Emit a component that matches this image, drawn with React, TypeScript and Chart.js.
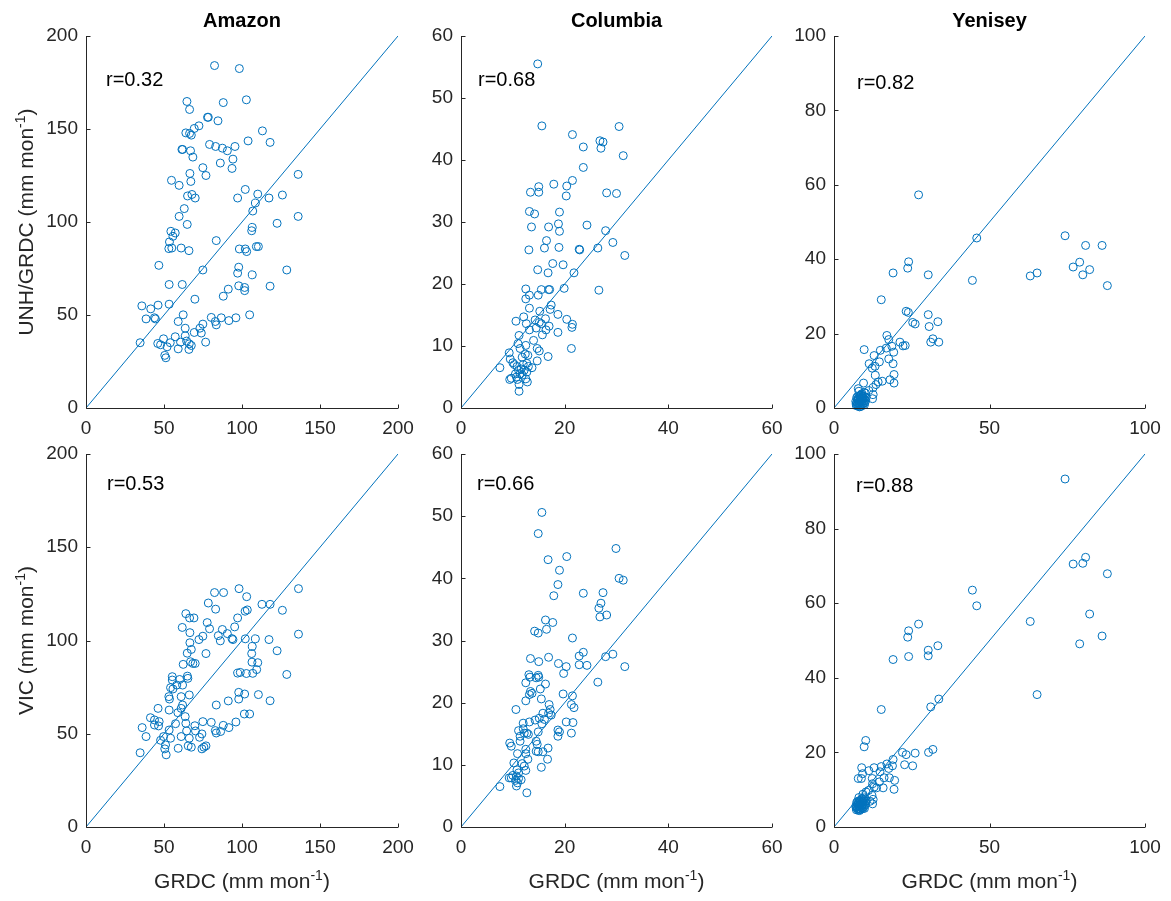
import React, { useEffect, useRef } from "react";
import { Chart, registerables } from "chart.js";

Chart.register(...registerables);

const BLUE = "#0072BD";
const AXIS = "#262626";
const FONT = "'Liberation Sans', Arial, Helvetica, sans-serif";

// ---------- data: GRDC (x) vs model (y), mm mon-1 ----------
const amazonUnhX = [82.4,98.3,64.7,88.0,102.8,66.4,77.9,78.4,84.6,72.4,69.4,64.0,66.4,67.5,113.1,103.9,118.0,79.2,83.1,87.4,90.6,95.5,61.5,61.9,67.0,68.5,94.2,86.1,74.9,93.6,76.9,66.6,67.2,54.8,59.7,136.0,102.1,97.2,110.1,117.3,125.9,65.1,67.9,70.0,63.0,108.6,106.9,59.7,64.9,136.0,122.5,106.6,106.2,54.4,57.2,55.7,53.5,83.5,53.1,55.0,61.0,66.0,98.3,102.1,103.0,109.2,110.5,46.7,74.9,97.9,97.2,106.6,128.7,53.3,61.7,91.2,88.0,97.9,101.7,101.7,118.0,69.8,35.8,41.5,46.2,53.3,38.5,43.9,44.5,62.3,80.3,86.7,96.1,104.9,59.1,82.9,83.5,91.6,74.9,73.0,63.6,69.4,73.9,57.2,63.6,49.7,34.7,46.0,47.8,54.0,60.6,64.5,66.2,67.5,76.7,52.0,59.1,66.0,50.5,51.2];
const amazonUnhY = [184.1,182.5,164.8,164.2,165.7,160.5,156.3,156.3,154.4,151.7,150.3,147.9,147.6,146.7,149.0,143.6,142.8,141.7,140.6,139.7,138.3,140.6,139.0,139.0,138.3,134.9,133.8,131.7,129.2,128.8,125.0,126.1,121.8,122.4,119.7,125.6,117.5,112.9,115.0,112.9,114.5,114.0,114.8,112.9,107.2,110.2,105.9,103.0,98.7,103.0,99.3,97.1,95.3,95.0,94.1,92.3,89.3,90.0,85.7,86.0,86.0,84.6,85.5,85.5,84.1,86.8,86.8,76.7,74.2,75.7,72.5,71.6,74.2,66.4,66.4,63.9,60.1,65.7,64.8,63.1,65.5,58.5,54.9,53.3,55.3,55.8,47.9,48.5,47.9,50.1,48.7,48.5,48.5,50.1,46.5,46.5,44.7,47.0,45.1,42.9,42.9,40.6,40.3,38.3,38.8,37.2,35.1,34.7,34.0,35.1,35.4,36.0,34.5,33.6,35.4,32.9,31.8,31.5,28.3,27.0];

const amazonVicX = [98.1,136.2,82.4,88.2,103.0,78.4,112.8,118.0,83.1,102.0,103.4,125.9,64.0,66.4,69.2,97.2,77.7,61.7,79.2,87.4,95.3,66.6,90.6,84.8,74.9,72.4,93.6,94.2,86.1,102.1,108.6,117.3,136.2,66.6,122.5,106.6,67.5,64.9,76.9,106.2,67.0,62.3,68.5,70.0,106.4,110.1,109.4,97.2,98.9,102.8,106.9,128.7,55.3,65.0,65.3,55.3,60.0,58.2,61.9,54.2,55.7,53.1,61.0,66.2,53.5,97.9,101.7,110.5,61.9,61.0,91.2,97.9,118.0,83.5,46.2,53.3,58.9,63.6,101.5,104.9,41.3,43.9,46.9,43.9,46.5,57.4,64.0,69.8,74.9,80.3,88.0,96.1,36.0,53.3,64.5,70.2,82.9,83.5,86.3,91.6,38.5,49.7,61.0,72.8,74.3,47.8,54.2,66.2,51.0,65.5,67.5,75.6,76.9,74.3,59.1,50.5,34.7,51.4];
const amazonVicY = [127.8,127.8,125.7,125.7,123.5,120.1,119.4,119.4,116.8,115.7,116.4,116.2,114.4,112.1,112.1,112.1,109.6,107.0,106.3,105.9,107.3,104.2,103.7,102.6,102.3,100.5,101.0,100.5,99.8,100.9,100.9,100.5,103.4,98.8,94.5,96.8,95.2,93.2,93.0,93.0,88.6,87.2,87.7,87.7,88.4,88.1,84.4,82.5,82.9,82.3,82.4,81.8,80.6,80.9,79.7,78.8,79.1,76.1,76.1,74.7,74.0,69.9,69.9,70.8,68.6,72.2,71.3,71.0,65.4,63.6,67.6,68.6,67.7,65.4,63.6,62.7,61.3,59.2,60.6,60.6,58.6,57.4,56.5,54.7,54.2,55.4,55.6,54.3,56.5,56.1,54.5,56.3,53.3,52.0,51.5,51.5,51.7,50.4,51.2,53.3,48.5,48.5,48.5,48.1,49.9,46.5,47.6,47.6,44.0,43.5,42.8,42.8,43.5,41.9,42.2,41.9,39.8,38.7];

const columbiaUnhX = [14.8,15.6,30.5,21.5,26.8,27.4,27.0,23.6,31.3,23.6,21.5,17.9,20.4,15.0,13.4,15.0,20.3,28.1,30.0,13.2,14.2,19.0,18.8,13.6,16.9,24.3,19.0,27.9,16.5,29.3,13.1,16.1,18.9,22.8,22.9,26.4,31.6,17.7,19.7,14.8,16.8,21.8,12.5,15.5,16.9,17.1,19.9,26.6,13.2,14.9,12.5,13.2,17.4,15.2,17.2,12.1,18.7,10.6,12.6,14.3,16.3,20.4,15.1,15.5,17.0,21.5,21.4,13.2,14.5,16.4,15.7,18.7,11.2,14.0,11.0,12.5,14.7,15.1,21.3,11.4,9.3,12.4,12.9,16.8,9.5,11.8,14.7,10.0,10.3,10.8,7.5,12.0,13.0,13.7,11.1,12.2,12.7,11.4,10.7,11.8,9.4,9.7,10.9,12.5,12.8,11.2,11.2,10.5,11.6,12.7];
const columbiaUnhY = [55.5,45.5,45.4,44.1,43.1,42.9,41.9,42.1,40.7,38.8,36.7,36.1,35.8,35.7,34.8,34.8,34.2,34.7,34.6,31.7,31.3,31.6,29.7,29.2,29.2,29.5,28.5,28.6,27.0,26.7,25.5,25.8,25.9,25.6,25.5,25.8,24.6,23.3,23.1,22.3,21.8,21.8,19.2,19.1,19.1,19.1,19.3,19.0,18.2,18.2,17.6,16.1,16.6,15.6,15.9,14.7,15.1,14.0,13.6,14.2,14.4,14.3,13.8,13.6,13.2,13.5,13.0,12.6,12.9,12.6,11.8,12.2,11.7,10.9,10.4,10.1,9.6,9.2,9.6,9.6,8.9,8.7,8.5,8.3,7.9,8.2,7.6,7.3,7.0,6.7,6.5,7.0,6.7,6.5,6.1,6.1,5.8,5.5,5.0,5.3,4.6,4.8,4.6,4.7,4.2,3.8,2.7,5.5,6.3,7.2];

const columbiaVicX = [15.6,14.9,29.9,20.4,16.8,19.0,30.5,31.3,18.7,17.9,23.6,27.4,27.0,26.6,28.1,26.8,16.3,17.7,14.2,14.9,16.5,21.5,23.6,22.8,29.3,27.9,13.4,15.0,16.9,18.8,20.3,22.8,24.3,31.6,13.1,14.9,15.0,14.5,13.3,19.8,12.5,16.3,15.3,26.4,13.4,13.2,13.7,19.7,21.5,12.5,15.5,17.0,21.3,21.8,10.6,17.2,16.9,17.4,15.8,15.1,14.3,16.1,13.2,15.6,12.0,20.3,21.6,11.1,12.0,14.9,12.7,13.0,18.7,19.0,21.3,11.4,12.2,18.7,11.4,9.4,9.7,14.5,14.7,16.8,12.5,12.5,10.9,14.5,14.9,15.8,12.9,16.7,10.2,11.8,12.2,15.5,12.5,10.8,11.1,10.0,9.3,9.7,10.7,11.1,11.6,10.5,10.9,7.5,10.7,12.7];
const columbiaVicY = [50.6,47.2,44.8,43.5,43.0,41.3,40.0,39.7,39.0,37.2,37.6,37.7,36.0,35.2,34.1,33.8,33.3,32.9,31.5,31.2,31.8,30.4,28.1,27.5,27.8,27.4,27.1,26.6,27.3,26.3,25.8,26.1,26.0,25.8,24.5,24.4,24.1,24.0,24.1,24.7,23.2,23.0,22.2,23.3,21.8,21.3,21.5,21.4,21.1,20.3,20.6,19.7,19.7,19.2,18.9,18.9,18.3,18.0,18.3,17.5,17.2,17.3,16.9,16.6,16.7,16.9,16.8,15.5,15.8,15.3,15.1,14.9,15.6,15.3,15.1,14.6,15.1,14.6,13.8,13.5,13.0,13.8,13.3,12.7,12.5,11.8,11.8,12.2,12.1,12.1,10.9,10.9,10.3,10.2,9.8,9.6,9.1,9.2,8.7,8.3,7.9,7.9,8.2,7.8,7.6,7.5,7.1,6.5,6.6,5.5];

const yeniseyUnhX = [27.2,45.9,74.3,80.9,86.2,79.0,76.9,82.2,80.0,65.3,63.1,87.9,44.5,24.0,23.7,19.0,30.3,15.2,23.2,23.9,30.3,25.3,26.1,33.4,30.6,31.8,31.1,33.7,17.0,17.6,21.2,22.2,22.9,18.6,16.8,14.9,9.7,19.2,12.9,17.6,14.6,11.3,19.0,12.3,13.2,19.3,13.3,18.0,19.3,15.5,14.2,13.5,12.6,9.5,11.2,7.8,10.1,12.6,12.4,8.7,7.2,7.5,7.8,8.0,8.3,8.6,8.9,9.2,9.5,9.8,7.0,7.4,7.7,8.1,8.4,8.8,9.1,9.4,9.9,10.2,7.3,7.6,7.9,8.2,8.5,8.7,9.0,9.3,9.6,10.0,7.1,7.9,8.6,9.4,8.2,7.6,8.9,9.7,10.4,8.0];
const yeniseyUnhY = [57.3,45.7,46.3,43.7,43.7,39.2,37.9,37.2,35.8,36.3,35.5,32.9,34.3,39.3,37.6,36.3,35.8,29.1,26.0,25.7,25.1,23.0,22.6,23.2,21.9,18.6,17.7,17.7,19.5,18.4,17.7,16.7,16.8,16.6,16.1,15.5,15.7,15.0,14.1,13.2,12.4,11.9,11.9,10.7,11.2,9.0,8.8,7.6,6.7,7.2,7.0,6.3,5.5,6.7,4.7,5.2,4.0,3.6,2.5,3.4,0.6,0.9,0.5,1.2,0.8,0.4,1.0,0.7,1.3,0.9,1.8,1.5,2.1,1.7,2.4,1.6,2.2,1.9,1.5,2.0,2.8,3.1,2.6,3.3,2.9,3.5,2.7,3.2,2.5,3.0,1.1,1.4,1.9,2.6,0.3,2.4,3.8,4.2,2.9,4.5];

const yeniseyVicX = [74.3,80.9,76.9,80.0,87.9,44.5,45.9,82.2,63.1,86.2,79.0,65.3,27.2,24.0,23.7,33.4,30.3,30.3,24.0,19.0,15.2,33.7,31.1,10.2,9.7,22.0,23.2,26.1,30.4,31.8,19.0,17.0,22.7,25.3,18.8,17.6,15.2,12.9,8.9,11.2,9.2,7.8,8.8,12.3,14.8,16.1,17.8,19.5,14.6,12.4,12.9,13.7,15.8,19.3,11.1,10.3,12.2,9.3,12.6,12.4,11.6,7.2,7.5,7.8,8.0,8.3,8.6,8.9,9.2,9.5,9.8,7.0,7.4,7.7,8.1,8.4,8.8,9.1,9.4,9.9,10.2,7.3,7.6,7.9,8.2,8.5,8.7,9.0,9.3,9.6,10.0,7.1,7.9,8.6,9.4,8.2,7.6,8.9,9.7,10.4,8.0];
const yeniseyVicY = [93.3,72.3,70.5,70.7,67.9,63.5,59.3,57.1,55.1,51.2,49.1,35.5,54.4,52.6,50.9,48.6,47.4,45.9,45.7,44.9,31.5,34.3,32.2,23.2,21.5,20.0,19.4,19.8,20.0,20.8,18.1,16.9,16.7,16.4,16.4,15.7,16.2,15.9,15.9,15.1,14.3,13.0,13.0,13.0,14.8,13.2,13.2,12.5,12.1,11.6,10.7,10.5,10.5,10.1,9.8,9.4,8.5,8.8,7.4,6.2,6.9,4.6,4.9,4.5,5.0,4.8,4.7,5.1,4.9,5.3,5.0,5.6,5.4,5.9,5.7,6.1,5.6,5.9,6.2,5.8,6.3,6.6,6.9,6.4,7.0,6.7,7.2,6.5,6.8,7.1,6.9,5.2,5.5,6.0,7.4,4.4,6.3,7.6,7.8,7.0,7.9];

const rivers = ["Amazon", "Columbia", "Yenisey"];
const rUnh = ["0.32", "0.68", "0.82"];
const rVic = ["0.53", "0.66", "0.88"];
const axisMax = [200, 60, 100];
const xTickStep = [50, 20, 50];
const yTickStep = [50, 10, 20];
const rowLabels = ["UNH/GRDC", "VIC"];
const xLabel = "GRDC";

// ---------- layout (pixels) ----------
const colLeft = [86, 461, 834];
const colWidth = [312, 311, 311];
const rowTop = [36, 454];
const rowHeight = [372, 373];
const MARGIN_L = 86;
const MARGIN_T = 36;
const MARGIN_R = 30;
const MARGIN_B = 80;
const rTextOffset = [
  [[20, 49.5], [17, 50], [23, 53]],
  [[21, 35.5], [16, 35.5], [22, 38]],
];

const seriesByPanel = [
  [[amazonUnhX, amazonUnhY], [columbiaUnhX, columbiaUnhY], [yeniseyUnhX, yeniseyUnhY]],
  [[amazonVicX, amazonVicY], [columbiaVicX, columbiaVicY], [yeniseyVicX, yeniseyVicY]],
];

function drawUnitLabel(ctx: CanvasRenderingContext2D, prefix: string, x: number, y: number, rotate: boolean) {
  const mainFont = `21px ${FONT}`;
  const supFont = `14px ${FONT}`;
  const a = prefix + " (mm mon";
  const s = "-1";
  const b = ")";
  ctx.font = mainFont;
  const wa = ctx.measureText(a).width;
  const wb = ctx.measureText(b).width;
  ctx.font = supFont;
  const ws = ctx.measureText(s).width;
  const total = wa + ws + wb;
  ctx.save();
  ctx.translate(x, y);
  if (rotate) ctx.rotate(-Math.PI / 2);
  ctx.textBaseline = "alphabetic";
  ctx.textAlign = "left";
  ctx.fillStyle = AXIS;
  let cx = -total / 2;
  ctx.font = mainFont;
  ctx.fillText(a, cx, 0);
  cx += wa;
  ctx.font = supFont;
  ctx.fillText(s, cx, -8);
  cx += ws;
  ctx.font = mainFont;
  ctx.fillText(b, cx, 0);
  ctx.restore();
}

const decorPlugin = {
  id: "panelDecor",
  afterDraw(chart: any, _args: any, opts: any) {
    const { ctx, chartArea: ca } = chart;
    const xs = chart.scales.x;
    const ys = chart.scales.y;
    ctx.save();
    ctx.strokeStyle = AXIS;
    ctx.lineWidth = 1;
    ctx.beginPath();
    const lx = Math.round(ca.left) + 0.5;
    const by = Math.round(ca.bottom) + 0.5;
    ctx.moveTo(lx, ca.top);
    ctx.lineTo(lx, by);
    ctx.lineTo(ca.right, by);
    xs.ticks.forEach((t: any) => {
      const px = Math.round(xs.getPixelForValue(t.value)) + 0.5;
      ctx.moveTo(px, by);
      ctx.lineTo(px, by - 4);
    });
    ys.ticks.forEach((t: any) => {
      const py = Math.round(ys.getPixelForValue(t.value)) + 0.5;
      ctx.moveTo(lx, py);
      ctx.lineTo(lx + 4, py);
    });
    ctx.stroke();

    if (opts.title) {
      ctx.fillStyle = "#000";
      ctx.font = `bold 20px ${FONT}`;
      ctx.textAlign = "center";
      ctx.textBaseline = "alphabetic";
      ctx.fillText(opts.title, (ca.left + ca.right) / 2, ca.top - 9.5);
    }
    if (opts.rText) {
      ctx.fillStyle = "#000";
      ctx.font = `20px ${FONT}`;
      ctx.textAlign = "left";
      ctx.textBaseline = "alphabetic";
      ctx.fillText(opts.rText, ca.left + opts.rOffset[0], ca.top + opts.rOffset[1]);
    }
    if (opts.yLabel) {
      drawUnitLabel(ctx, opts.yLabel, ca.left - 53, (ca.top + ca.bottom) / 2, true);
    }
    if (opts.xLabel) {
      drawUnitLabel(ctx, opts.xLabel, (ca.left + ca.right) / 2, ca.bottom + 61, false);
    }
    ctx.restore();
  },
};

type PanelProps = { row: number; col: number };

function Panel({ row, col }: PanelProps) {
  const ref = useRef<HTMLCanvasElement | null>(null);
  const w = colWidth[col] + MARGIN_L + MARGIN_R;
  const h = rowHeight[row] + MARGIN_T + MARGIN_B;
  const left = colLeft[col] - MARGIN_L;
  const top = rowTop[row] - MARGIN_T;

  useEffect(() => {
    const [xs, ys] = seriesByPanel[row][col];
    const max = axisMax[col];
    const pts = xs.map((x, i) => ({ x, y: ys[i] })).filter((p) => p.y !== undefined);
    const tickFont = { size: 19, family: FONT };
    const chart = new Chart(ref.current as HTMLCanvasElement, {
      type: "scatter",
      data: {
        datasets: [
          {
            data: pts,
            pointStyle: "circle",
            pointRadius: 4,
            pointBorderWidth: 1,
            pointBackgroundColor: "rgba(0,0,0,0)",
            pointBorderColor: BLUE,
            borderColor: BLUE,
            backgroundColor: "rgba(0,0,0,0)",
            clip: false,
          } as any,
          {
            data: [
              { x: 0, y: 0 },
              { x: max, y: max },
            ],
            showLine: true,
            pointRadius: 0,
            borderColor: BLUE,
            borderWidth: 1,
            backgroundColor: BLUE,
          } as any,
        ],
      },
      options: {
        responsive: false,
        animation: false,
        events: [],
        layout: { padding: { left: 0, top: MARGIN_T, right: MARGIN_R, bottom: 0 } },
        plugins: {
          legend: { display: false },
          tooltip: { enabled: false },
          title: { display: false },
          panelDecor: {
            title: row === 0 ? rivers[col] : "",
            rText: "r=" + (row === 0 ? rUnh[col] : rVic[col]),
            rOffset: rTextOffset[row][col],
            yLabel: col === 0 ? rowLabels[row] : "",
            xLabel: row === 1 ? xLabel : "",
          },
        } as any,
        scales: {
          x: {
            type: "linear",
            position: "bottom",
            min: 0,
            max,
            grid: { display: false, drawTicks: false },
            border: { display: false },
            ticks: {
              stepSize: xTickStep[col],
              padding: 9,
              color: AXIS,
              font: tickFont,
              maxRotation: 0,
              autoSkip: false,
            },
            afterFit: (s: any) => {
              s.height = MARGIN_B;
            },
          },
          y: {
            type: "linear",
            position: "left",
            min: 0,
            max,
            grid: { display: false, drawTicks: false },
            border: { display: false },
            ticks: {
              stepSize: yTickStep[col],
              padding: 8,
              color: AXIS,
              font: tickFont,
              autoSkip: false,
            },
            afterFit: (s: any) => {
              s.width = MARGIN_L;
            },
          },
        },
      },
      plugins: [decorPlugin as any],
    });
    return () => chart.destroy();
  }, [row, col]);

  return (
    <canvas
      ref={ref}
      width={w}
      height={h}
      style={{ position: "absolute", left, top, width: w, height: h }}
    />
  );
}

export default function App() {
  const panels: PanelProps[] = [];
  for (let r = 0; r < 2; r++) for (let c = 0; c < 3; c++) panels.push({ row: r, col: c });
  return (
    <div style={{ position: "absolute", left: 0, top: 0, width: 1171, height: 901, background: "#fff", overflow: "hidden" }}>
      {panels.map((p) => (
        <Panel key={`${p.row}-${p.col}`} row={p.row} col={p.col} />
      ))}
    </div>
  );
}
